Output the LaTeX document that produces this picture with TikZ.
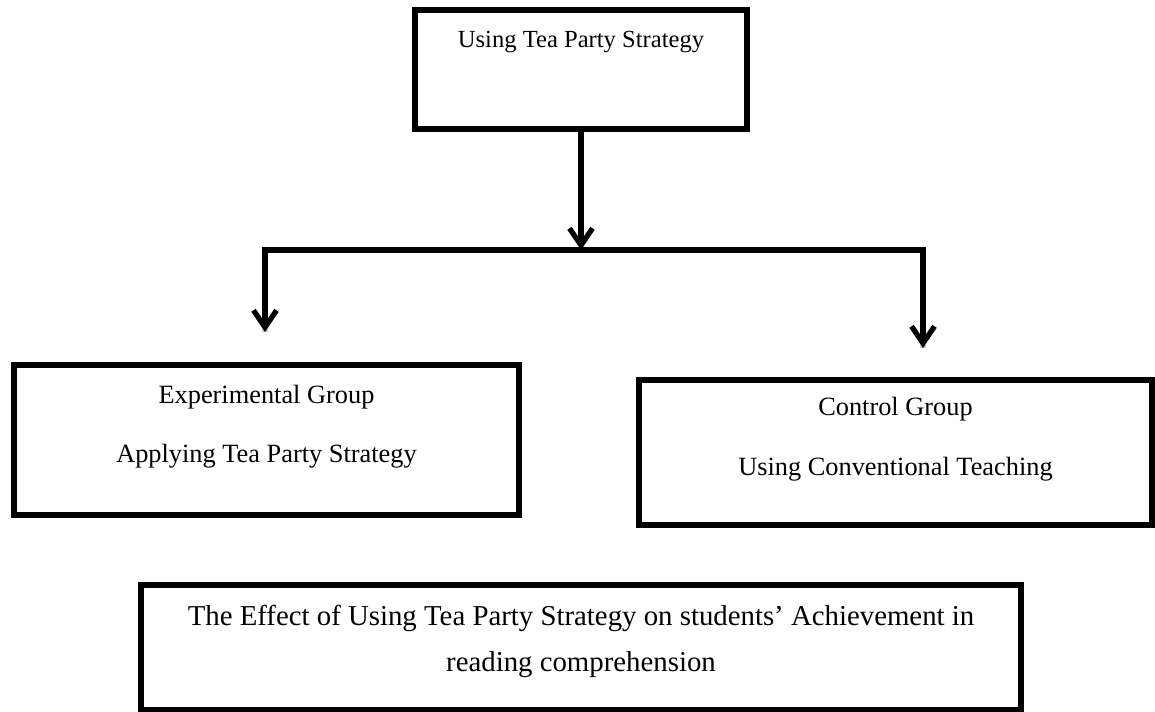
\documentclass[tikz,border=0pt]{standalone}
\usepackage{fontspec}
\setmainfont{Liberation Serif}
\usepackage{tikz}
\usetikzlibrary{shapes,arrows.meta}

\begin{document}
\begin{tikzpicture}[x=0.02cm,y=-0.02cm,
  font=\fontsize{15}{18}\selectfont,
  box/.style={draw,line width=3pt,inner sep=0pt,rectangle},
  conn/.style={line width=3pt,-{Straight Barb[length=3.4mm,width=4.6mm]}},
  shade/.style={line width=3pt,gray!40,xshift=1.2pt,yshift=-1.5pt}]
\useasboundingbox (0,0) rectangle (1155,712);

\node[box,minimum width=6.64cm,text height=0.76cm,text depth=1.62cm,font=\fontsize{14}{17}\selectfont](party) at (581,69.5)
  {\begin{tabular}[t]{c}Using Tea Party Strategy\end{tabular}};

\node[box,minimum width=10.1cm,text height=0.76cm,text depth=2.24cm](exper) at (266.5,440)
  {\begin{tabular}[t]{c}Experimental Group\\[15.6pt] Applying Tea Party Strategy\end{tabular}};

\node[box,minimum width=10.26cm,text height=0.7cm,text depth=2.2cm](contr) at (895.5,452.5)
  {\begin{tabular}[t]{c}Control Group\\[16.6pt] Using Conventional Teaching\end{tabular}};

\node[box,minimum width=17.6cm,text height=0.8cm,text depth=1.7cm,font=\fontsize{16.4}{19.7}\selectfont](effect) at (581,647.5)
  {\begin{tabular}[t]{c}The Effect of Using Tea Party Strategy on students’ Achievement in\\[7pt] reading comprehension\end{tabular}};

\coordinate (hub) at (581,250);
\coordinate (lend) at (265,332);
\coordinate (rend) at (923,348);

% light shadow under the branch line
\draw[shade] (hub) -| (lend);
\draw[shade] (hub) -| (rend);

\draw[conn] (party) -- (hub);
\draw[conn] (hub) -| (lend);
\draw[conn] (hub) -| (rend);
\end{tikzpicture}
\end{document}
